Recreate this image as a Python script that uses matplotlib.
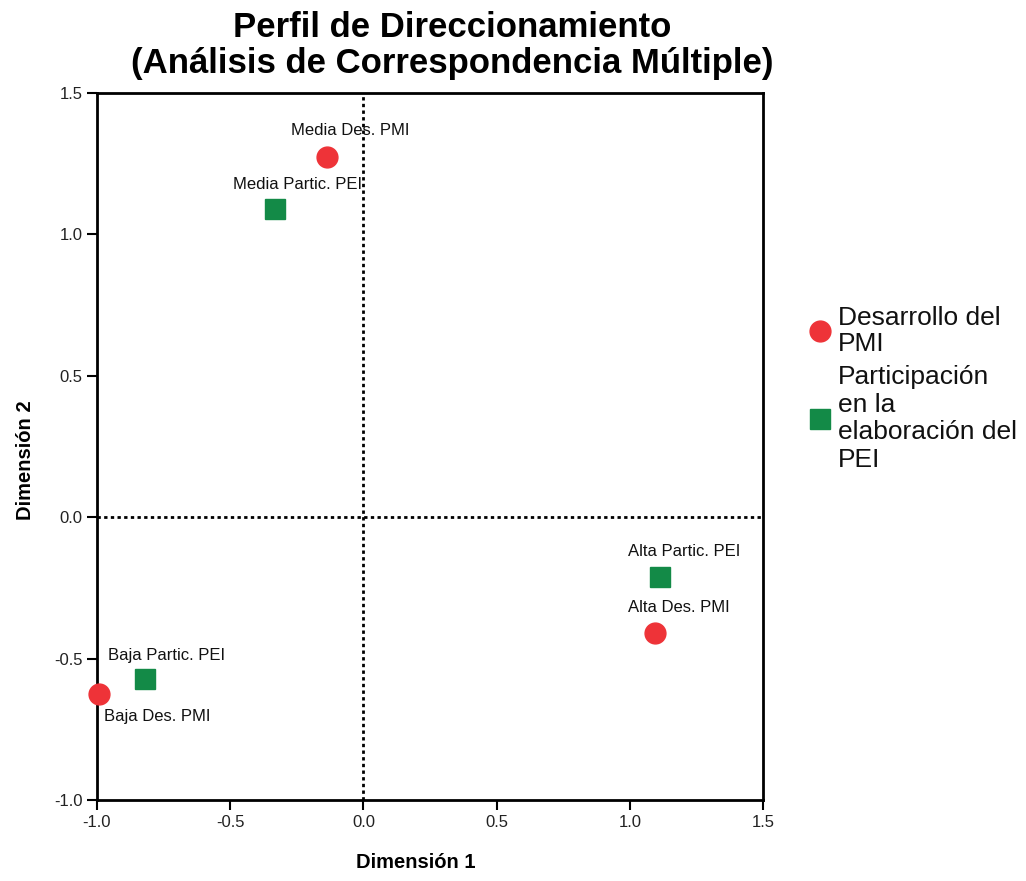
import matplotlib
matplotlib.use("Agg")
import matplotlib.pyplot as plt

plt.rcParams['font.family'] = ['Liberation Sans', 'DejaVu Sans']

# Data
series_names = ["Desarrollo del\nPMI", "Participación\nen la\nelaboración del\nPEI"]
pmi_labels = ["Media Des. PMI", "Alta Des. PMI", "Baja Des. PMI"]
pmi_x = [-0.135, 1.096, -0.991]
pmi_y = [1.273, -0.41, -0.626]
pei_labels = ["Media Partic. PEI", "Alta Partic. PEI", "Baja Partic. PEI"]
pei_x = [-0.33, 1.115, -0.818]
pei_y = [1.089, -0.212, -0.573]
xticks = [-1.0, -0.5, 0.0, 0.5, 1.0, 1.5]
yticks = [-1.0, -0.5, 0.0, 0.5, 1.0, 1.5]

red = "#EE3338"
green = "#138A47"

fig = plt.figure(figsize=(10.26, 8.81), dpi=100)
ax = fig.add_axes([0.0945, 0.0919, 0.6492, 0.8025])

ax.axvline(0, color="black", linestyle=(0, (1.2, 1.2)), linewidth=2, zorder=1)
ax.axhline(0, color="black", linestyle=(0, (1.2, 1.2)), linewidth=2, zorder=1)

ax.plot(pmi_x, pmi_y, 'o', color=red, markersize=15, linestyle='none',
        label=series_names[0], zorder=3, clip_on=False)
ax.plot(pei_x, pei_y, 's', color=green, markersize=15, linestyle='none',
        label=series_names[1], zorder=3, clip_on=False)

# label offsets in pixels (dx to left edge, dy of text center)
pmi_off = [(-36, 27), (-27, 26), (5, -22)]
pei_off = [(-42, 25), (-32, 26), (-37, 24)]
for lab, x, y, off in zip(pmi_labels, pmi_x, pmi_y, pmi_off):
    ax.annotate(lab, (x, y), xytext=off, textcoords='offset pixels',
                ha='left', va='center', fontsize=12, color='#111111')
for lab, x, y, off in zip(pei_labels, pei_x, pei_y, pei_off):
    ax.annotate(lab, (x, y), xytext=off, textcoords='offset pixels',
                ha='left', va='center', fontsize=12, color='#111111')

ax.set_xlim(-1.0, 1.5)
ax.set_ylim(-1.0, 1.5)
ax.set_xticks(xticks)
ax.set_yticks(yticks)
ax.set_xticklabels([f"{t:.1f}" for t in xticks])
ax.set_yticklabels([f"{t:.1f}" for t in yticks])
ax.tick_params(direction='out', length=7, width=1.5, labelsize=12, colors='black',
               top=False, right=False, labelcolor='#222222')
for s in ax.spines.values():
    s.set_linewidth(2)
    s.set_color('black')

ax.set_xlabel("Dimensión 1", fontsize=14.5, fontweight='bold', va='center')
ax.set_ylabel("Dimensión 2", fontsize=14.5, fontweight='bold', va='center')
ax.xaxis.set_label_coords(0.479, -0.0877)
ax.yaxis.set_label_coords(-0.108, 0.481)

fig.text(0.441, 0.988, "Perfil de Direccionamiento\n(Análisis de Correspondencia Múltiple)",
         ha='center', va='top', fontsize=25, fontweight='bold', linespacing=1.12)

leg = fig.legend(loc='upper left', bbox_to_anchor=(0.779, 0.665), frameon=False,
                 fontsize=19, handletextpad=0.25, labelspacing=0.35, handlelength=0.8,
                 borderaxespad=0, markerscale=1.0)
texts = leg.get_texts()
texts[0].set_linespacing(1.1)
texts[1].set_linespacing(1.2)
for t in texts:
    t.set_color('#111111')

fig.savefig("out.png", dpi=100)
